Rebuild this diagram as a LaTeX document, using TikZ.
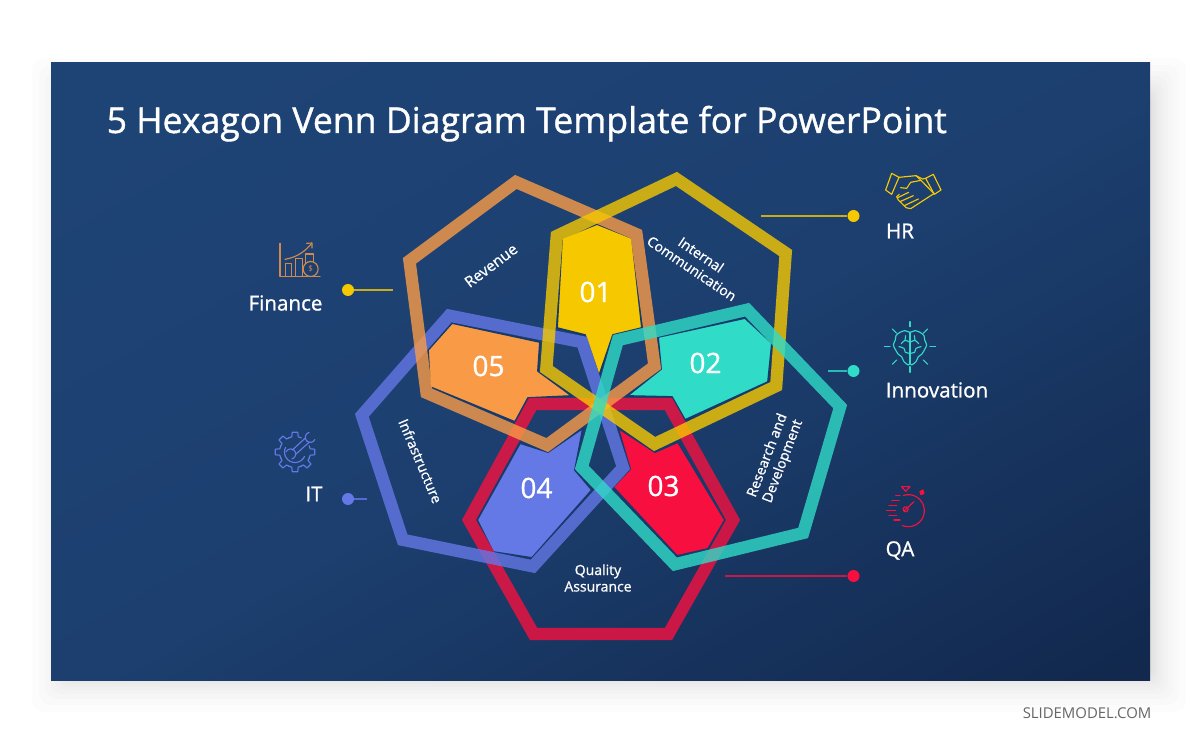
\documentclass[tikz,border=0pt]{standalone}
\usepackage{fontspec}
\setmainfont{Open Sans}
\newfontfamily\semi{Open Sans}[FakeBold=1.0]
\usetikzlibrary{calc}
\definecolor{cyel}{HTML}{F6C800}
\definecolor{cora}{HTML}{F99B46}
\definecolor{cteal}{HTML}{30DCC8}
\definecolor{cred}{HTML}{F7103F}
\definecolor{cblue}{HTML}{6478E6}
\definecolor{bgA}{HTML}{1E4476}
\definecolor{bgB}{HTML}{1C3F6F}
\definecolor{bgC}{HTML}{11264A}
\definecolor{edgeC}{HTML}{163A6A}
\pgfdeclareverticalshading{slidebg}{100bp}{color(0bp)=(bgC); color(28bp)=(bgC); color(50bp)=(bgB); color(72bp)=(bgA); color(100bp)=(bgA)}
\tikzset{
  band/.style={draw=#1,draw opacity=.8,line width=12.3pt,line join=miter,miter limit=10},
  region/.style={fill=#1,draw=edgeC,line width=1.8pt,line join=round},
  num/.style={text=white,font=\semi\fontsize{28}{28}\selectfont,inner sep=0pt},
  small/.style={text=white,font=\semi\fontsize{14}{16.5}\selectfont,align=center,inner sep=0pt},
  label/.style={text=white,font=\semi\fontsize{20.6}{22}\selectfont,inner sep=0pt},
  dot/.style={circle,fill=#1,minimum size=12pt,inner sep=0pt},
  leader/.style={draw=#1,draw opacity=.8,line width=1.1pt},
  icon/.style={draw=#1,line width=1.15pt,line join=round,line cap=round,fill=none},
}
\newcommand{\hexb}[8]{\draw[band=#1] ($(#2)!.95!(#3)$) -- ($(#2)!.95!(#4)$) -- ($(#2)!.95!(#5)$) -- ($(#2)!.95!(#6)$) -- ($(#2)!.95!(#7)$) -- ($(#2)!.95!(#8)$) -- cycle;}
\begin{document}
\begin{tikzpicture}[x=1pt,y=-1pt]
\useasboundingbox (0,0) rectangle (1200,743);
\fill[white] (0,0) rectangle (1200,743);
% soft shadow
\foreach \g in {34,27,21,16,12,9,6,4,2,0,-2,-4,-6,-8,-10}{
  \fill[black,opacity=.012,rounded corners=12pt] ({66-\g},{92-\g}) rectangle ({1152+\g},{678+\g});
}
% slide
\begin{scope}
  \clip (51,62.5) rectangle (1150,680);
  \shade[shading=slidebg,shading angle=29] (-50,-200) rectangle (1250,1000);
\end{scope}
\node[anchor=base west,text=white,inner sep=0pt,font=\semi\fontsize{35.6}{36}\selectfont] (title) at (106.5,133) {5 Hexagon Venn Diagram Template for PowerPoint};
\node[anchor=base east,text=black!60,inner sep=0pt,font=\fontsize{14.9}{15}\selectfont] (brand) at (1151.5,718) {SLIDEMODEL.COM};
% filled regions
\path[region=cyel] (597,224) -- (632,238) -- (642,328) -- (613,335) -- (599,376) -- (585,335) -- (557,328) -- (562,238) -- cycle;
\path[region=cteal] (745,318) -- (772,343) -- (768,382) -- (685,420) -- (672,397) -- (627,396) -- (661,369) -- (658,337) -- cycle;
\path[region=cred] (678,442) -- (725,520) -- (708,549) -- (677,556) -- (613,487) -- (630,469) -- (618,428) -- (655,452) -- cycle;
\path[region=cblue] (520,443) -- (548,452) -- (583,428) -- (575,470) -- (592,490) -- (532,558) -- (493,552) -- (477,520) -- cycle;
\path[region=cora] (452,323) -- (540,342) -- (538,371) -- (572,396) -- (528,398) -- (515,422) -- (430,387) -- (428,350) -- cycle;
% hexagon bands
\hexb{cred}{601,519}{529,398}{672,398}{740,520}{672,640}{530,640}{462,520}
\hexb{cblue}{492,441}{447,309}{587,337}{630,469}{535,573}{398,545}{355,414}
\hexb{cora}{532,314}{515,175}{642,230}{661,369}{548,452}{421,397}{403,258}
\hexb{cyel}{666,311}{677,172}{792,250}{782,390}{654,451}{540,372}{551,232}
\hexb{cteal}{711,437}{749,303}{847,405}{808,538}{673,571}{575,469}{613,335}
% numbers
\node[num] (n1) at (595.5,292) {01};
\node[num] (n2) at (705.5,363) {02};
\node[num] (n3) at (663.5,486) {03};
\node[num] (n4) at (536.5,488) {04};
\node[num] (n5) at (488.5,366) {05};
% band labels
\node[small,font=\semi\fontsize{15.3}{17}\selectfont,rotate=37] (rev) at (491,265.5) {Revenue};
\node[small,rotate=-34] (comm) at (696.5,261.5) {Internal\\Communication};
\node[small,rotate=69] (rd) at (775.5,458.5) {Research and\\Development};
\node[small] (qa) at (598,578) {Quality\\Assurance};
\node[small,rotate=-67] (inf) at (420.5,461) {Infrastructure};
% outer labels
\node[label] (lfin) at (285.5,303) {Finance};
\node[label] (lhr) at (900,231) {HR};
\node[label] (linn) at (937,390) {Innovation};
\node[label] (lqa) at (900,550.5) {QA};
\node[label] (lit) at (314,494) {IT};
% leaders
\node[dot=cyel] (dfin) at (348,290) {};
\coordinate (efin) at (393,290);
\node[dot=cyel] (dhr) at (853.5,216) {};
\coordinate (ehr) at (761,216);
\node[dot=cteal] (dinn) at (853.5,371) {};
\coordinate (einn) at (828,371);
\node[dot=cred] (dqa) at (853.5,576) {};
\coordinate (eqa) at (725,576);
\node[dot=cblue] (dit) at (348,499) {};
\coordinate (eit) at (367,499);
\draw[leader=cyel] (dfin) -- (efin);
\draw[leader=cyel] (dhr) -- (ehr);
\draw[leader=cteal] (dinn) -- (einn);
\draw[leader=cred] (dqa) -- (eqa);
\draw[leader=cblue] (dit) -- (eit);
% Finance icon
\colorlet{cicoO}{cora!82!bgB}
\begin{scope}[shift={(240,230)},x=.3333pt,y=-.3333pt]
  \draw[icon=cicoO] (120,40) -- (120,140) -- (240,140);
  \draw[icon=cicoO] (137,140) -- (137,100) -- (155,100) -- (155,140);
  \draw[icon=cicoO] (167,140) -- (167,85) -- (188,85) -- (188,140);
  \draw[icon=cicoO] (197,100) -- (197,72) -- (220,72) -- (220,95);
  \draw[icon=cicoO,fill=bgB] (212,117) circle (7.5pt);
  \node[text=cicoO,inner sep=0pt,font=\fontsize{8}{8}\selectfont] (coin) at (212,117) {\$};
  \draw[icon=cicoO] (135,88) .. controls (170,82) and (195,65) .. (215,40);
  \draw[icon=cicoO] (200,40) -- (216,39) -- (216,54);
\end{scope}
% IT icon
\begin{scope}[shift={(295,452)}]
  \foreach \a in {0,45,90,135,180,225,270}{
    \draw[icon=cblue] ({\a-24}:15.5) -- ({\a-12}:15.5) -- ({\a-8}:20) -- ({\a+8}:20) -- ({\a+12}:15.5) -- ({\a+24}:15.5);
  }
  \draw[icon=cblue] plot[domain=25:205,samples=16] ({10.5*cos(\x)},{10.5*sin(\x)});
\end{scope}
\begin{scope}[shift={(260,420)},x=.3333pt,y=-.3333pt]
  \draw[icon=cblue] (97,90) -- (135,55);
  \draw[icon=cblue] (107,103) -- (147,67);
  \draw[icon=cblue] plot[domain=25:255,samples=14] ({151+15*cos(\x)},{52+15*sin(\x)});
  \draw[icon=cblue] plot[domain=205:435,samples=14] ({92+15*cos(\x)},{102+15*sin(\x)});
\end{scope}
% HR icon
\begin{scope}[shift={(750,165)},x=.3333pt,y=-.3333pt]
  \draw[icon=cyel] (425,25) -- (447,37) -- (425,88) -- (407,75) -- cycle;
  \draw[icon=cyel] (527,40) -- (550,28) -- (573,75) -- (553,88) -- cycle;
  \draw[icon=cyel] (447,37) -- (498,32) -- (518,42) -- (527,40);
  \draw[icon=cyel] (498,32) -- (513,46) -- (482,52) -- (470,70) -- (452,68);
  \draw[icon=cyel] (513,46) -- (550,84);
  \draw[icon=cyel] (553,85) -- (482,131) -- (468,128) -- (445,105) -- (440,95) -- (448,88);
  \draw[icon=cyel] (443,98) -- (476,82);
  \draw[icon=cyel] (450,110) -- (490,92);
  \draw[icon=cyel] (463,122) -- (505,102);
\end{scope}
% Innovation icon
\begin{scope}[shift={(820,315)},x=.3333pt,y=-.3333pt]
  \draw[icon=cteal] (270,20) -- (270,35);
  \draw[icon=cteal] (330,95) -- (347,95);
  \draw[icon=cteal] (193,95) -- (210,95);
  \draw[icon=cteal] (270,155) -- (270,172);
  \draw[icon=cteal] (217,42) -- (230,55);
  \draw[icon=cteal] (323,42) -- (310,55);
  \draw[icon=cteal] (217,148) -- (230,135);
  \draw[icon=cteal] (323,148) -- (310,135);
  \draw[icon=cteal] plot[smooth cycle] coordinates {(270,52) (285,47) (300,52) (312,62) (314,75) (320,90) (313,105) (305,118) (295,125) (288,140) (275,150) (270,145) (265,150) (252,140) (245,125) (235,118) (227,105) (220,90) (226,75) (228,62) (240,52) (255,47)};
  \draw[icon=cteal] (270,52) -- (270,145);
  \draw[icon=cteal] plot[smooth] coordinates {(270,82) (285,76) (296,86)};
  \draw[icon=cteal] (285,76) -- (283,62);
  \draw[icon=cteal] plot[smooth] coordinates {(270,115) (284,112) (288,100) (303,95)};
  \draw[icon=cteal] plot[smooth] coordinates {(270,82) (255,76) (244,86)};
  \draw[icon=cteal] (255,76) -- (257,62);
  \draw[icon=cteal] plot[smooth] coordinates {(270,115) (256,112) (252,100) (237,95)};
\end{scope}
% QA icon
\begin{scope}[shift={(720,480)},x=.3333pt,y=-.3333pt]
  \draw[icon=cred] plot[domain=-108:112,samples=24] ({565+48*cos(\x)},{92+48*sin(\x)});
  \draw[icon=cred] (545,20) -- (570,20) -- (557,34) -- cycle;
  \draw[icon=cred,fill=cred] (600,35) -- (609,30) -- (612,40) -- (603,44) -- cycle;
  \draw[icon=cred] (527,47) -- (540,47);
  \draw[icon=cred] (515,62) -- (537,62);
  \draw[icon=cred] (507,77) -- (530,77);
  \draw[icon=cred] (500,92) -- (527,92);
  \draw[icon=cred] (507,107) -- (530,107);
  \draw[icon=cred] (522,120) -- (540,120);
  \draw[icon=cred] (553,92) -- (582,65);
  \draw[icon=cred] (557,88) circle (2.5pt);
\end{scope}
\end{tikzpicture}
\end{document}
